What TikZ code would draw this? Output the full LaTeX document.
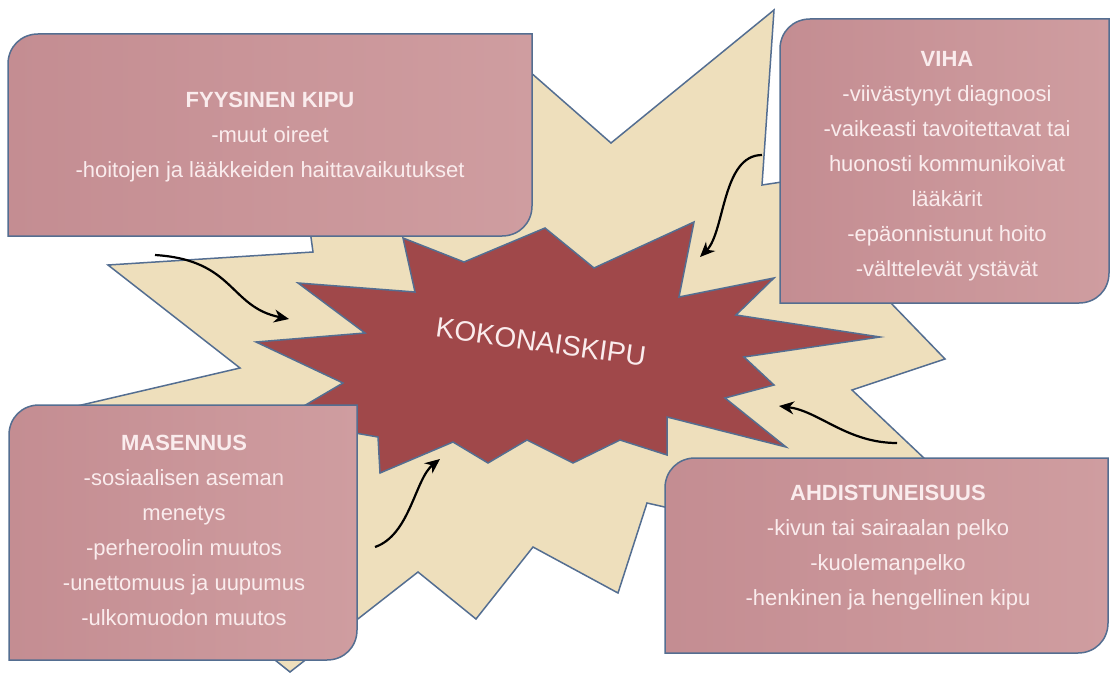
\documentclass[tikz,border=0pt]{standalone}
\usepackage{fontspec}
\setmainfont{Liberation Sans}
\usetikzlibrary{arrows.meta}

\definecolor{boxpink}{RGB}{203,150,154}
\definecolor{boxpinkdark}{RGB}{196,141,146}
\definecolor{boxpinklight}{RGB}{207,157,160}
\definecolor{boxline}{RGB}{84,110,145}
\definecolor{burstbeige}{RGB}{238,223,188}
\definecolor{burstred}{RGB}{160,72,74}
\definecolor{paletext}{RGB}{250,236,237}

\tikzset{
  burst/.style={draw=boxline, line width=1.5pt, line join=miter},
  boxshape/.style={draw=boxline, left color=boxpinkdark, right color=boxpinklight, line width=1.5pt},
  boxtext/.style={text=paletext, align=center, font=\fontsize{22}{35}\selectfont},
  wiggle/.style={draw=black, line width=2.2pt, -{Stealth[length=15pt,width=13pt]}}
}

% box with round top-left and bottom-right corners: x1 y1 x2 y2
\newcommand{\diagbox}[4]{%
  \path[boxshape] (#1,#4) -- (#1,#2+30) .. controls (#1,#2+13) and (#1+13,#2) .. (#1+30,#2)
    -- (#3,#2) -- (#3,#4-30) .. controls (#3,#4-13) and (#3-13,#4) .. (#3-30,#4) -- cycle;}

\begin{document}
\begin{tikzpicture}[x=1pt, y=-1pt]
  \fill[white] (0,0) rectangle (1111,674);
  \useasboundingbox (0,0) rectangle (1111,674);

  % outer burst
  \filldraw[burst, fill=burstbeige] (774,10) -- (762,185) -- (795,180) -- (830,240)
    -- (945,359) -- (852,390) -- (1000,530) -- (700,515) -- (647,503) -- (618,593)
    -- (533,547) -- (476,619) -- (418,572) -- (290,672) -- (150,560) -- (60,410)
    -- (240,368) -- (108,265) -- (313,252) -- (310,230) -- (505,50) -- (611,143) -- cycle;

  % inner burst
  \filldraw[burst, fill=burstred] (298,283) -- (415,292) -- (403,238) -- (464,262)
    -- (545,228) -- (594,268) -- (694,222) -- (679,297) -- (774,278) -- (736,315)
    -- (880,337) -- (744,357) -- (774,385) -- (725,398) -- (786,447) -- (667,417)
    -- (667,455) -- (620,440) -- (573,463) -- (527,440) -- (488,463) -- (453,442)
    -- (380,473) -- (378,437) -- (280,420) -- (343,383) -- (256,342) -- (365,333) -- cycle;

  \node[rotate=-8, text=paletext, font=\fontsize{28}{34}\selectfont] (kokonais) at (541,342) {KOKONAISKIPU};

  % boxes
  \diagbox{8}{34}{532}{236}
  \node[boxtext] (fyysinen) at (270,137) {\textbf{FYYSINEN KIPU}\\-muut oireet\\-hoitojen ja lääkkeiden haittavaikutukset};

  \diagbox{780}{19}{1109}{303}
  \node[boxtext] (viha) at (947,166) {\textbf{VIHA}\\-viivästynyt diagnoosi\\-vaikeasti tavoitettavat tai\\huonosti kommunikoivat\\lääkärit\\-epäonnistunut hoito\\-välttelevät ystävät};

  \diagbox{9}{405}{357}{660}
  \node[boxtext] (masennus) at (184,530) {\textbf{MASENNUS}\\-sosiaalisen aseman\\menetys\\-perheroolin muutos\\-unettomuus ja uupumus\\-ulkomuodon muutos};

  \diagbox{665}{458}{1108}{653}
  \node[boxtext] (ahdistus) at (888,548) {\textbf{AHDISTUNEISUUS}\\-kivun tai sairaalan pelko\\-kuolemanpelko\\-henkinen ja hengellinen kipu};

  % arrows
  \coordinate (f1) at (155,255);
  \coordinate (f2) at (289,319);
  \coordinate (v1) at (762,155);
  \coordinate (v2) at (700,257);
  \coordinate (a1) at (897,443);
  \coordinate (a2) at (779,406);
  \coordinate (m1) at (375,547);
  \coordinate (m2) at (440,459);

  \draw[wiggle] (f1) .. controls +(80,5) and +(-60,-12) .. (f2);
  \draw[wiggle] (v1) .. controls +(-40,0) and +(25,-25) .. (v2);
  \draw[wiggle] (a1) .. controls +(-50,0) and +(40,5) .. (a2);
  \draw[wiggle] (m1) .. controls +(35,-12) and +(-25,20) .. (m2);
\end{tikzpicture}
\end{document}
